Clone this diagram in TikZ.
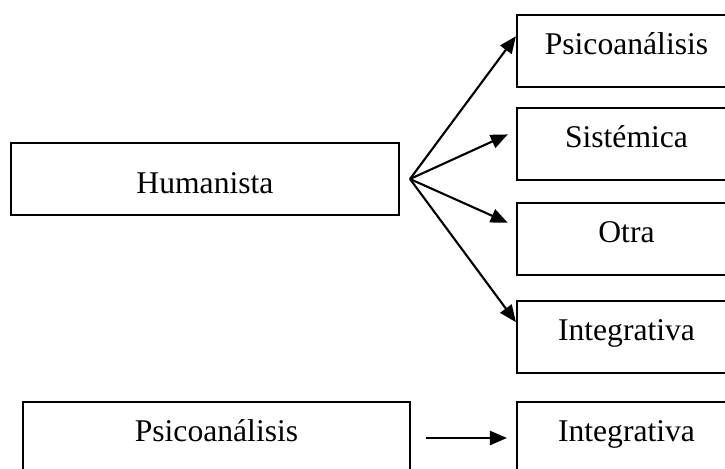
\documentclass[tikz,border=0pt]{standalone}
\usepackage{fontspec}
\setmainfont{Liberation Serif}
\usetikzlibrary{arrows.meta, positioning, calc}

\begin{document}
\begin{tikzpicture}[x=0.02cm, y=-0.02cm, >={Triangle[length=0.34cm, width=0.28cm]},
    box/.style={draw, line width=1.2pt, minimum height=1.44cm, inner sep=0pt,
      text height=0.5cm, text depth=0.38cm, font=\fontsize{18}{21.6}\selectfont},
    link/.style={line width=1.2pt, ->}]
    \useasboundingbox (0,0) rectangle (725,468);

    \node[box, minimum width=7.76cm, text height=0.62cm, text depth=0.06cm] (hum) at (205,179) {Humanista};

    \node[box, minimum width=4.38cm] (psi) at (626.5,51) {Psicoanálisis};
    \node[box, minimum width=4.38cm] (sis) at (626.5,144) {Sistémica};
    \node[box, minimum width=4.38cm] (otra) at (626.5,239) {Otra};
    \node[box, minimum width=4.38cm] (integ) at (626.5,337) {Integrativa};

    \node[box, minimum width=7.74cm] (psib) at (216.5,438) {Psicoanálisis};
    \node[box, minimum width=4.38cm] (integb) at (626.5,438) {Integrativa};

    % fan out from Humanista
    \coordinate (fan) at ([xshift=0.2cm]hum.east);
    \draw[link] (fan) -- ($(psi.north west)!0.3!(psi.south west)$);
    \draw[link, shorten >=0.18cm] (fan) -- ($(sis.north west)!0.32!(sis.south west)$);
    \draw[link, shorten >=0.18cm] (fan) -- ($(otra.north west)!0.33!(otra.south west)$);
    \draw[link] (fan) -- ($(integ.north west)!0.3!(integ.south west)$);

    \draw[link, shorten <=0.3cm, shorten >=0.18cm] (psib) -- (integb);
\end{tikzpicture}
\end{document}
